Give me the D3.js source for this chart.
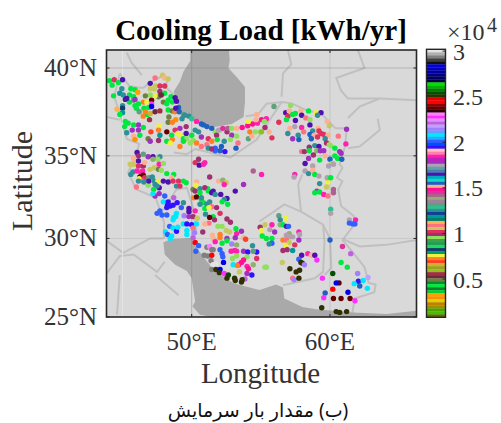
<!DOCTYPE html>
<html><head><meta charset="utf-8">
<script src="https://cdn.jsdelivr.net/npm/d3@7"></script>
<style>html,body{margin:0;padding:0;background:#fff;overflow:hidden}svg{display:block}</style>
</head><body><div id="c"></div>
<script>
// --- axis labels and ticks
const lonTicks=[50,60], latTicks=[25,30,35,40], cbTicks=[0.5,1,1.5,2,2.5,3];
const cbTickLabels=["0.5","1","1.5","2","2.5","3"];
const titleText="Cooling Load [kWh/yr]", xLabel="Longitude", yLabel="Latitude", caption="(ب) مقدار بار سرمایش";
const cbDomain=[0.08,3.02];
// colormap, top of the bar to bottom
const palette=["#e4e4e4","#b0b0b0","#808080","#404040","#101010",
"#0000e0","#0000c0","#0000a0","#000080","#000060","#000040",
"#00e000","#00b000","#008000","#005000","#303000",
"#e00000","#ff0000","#900000","#600000","#300000",
"#ff80ff","#ff30ff","#e090ff","#c060e0","#c0a0ff","#a080ff","#60a0ff","#00e8ff","#20b0ff","#3060ff","#0050ff","#3010ff",
"#ffc0c0","#ff80b0","#ff20b0","#c020c0","#a030c0","#b0a0b0","#60a0b0","#4a80b0","#5010b0","#00a8c0","#10d8c8","#2060c0",
"#ffb090","#ff1090","#e030a0","#b06090","#90b070","#a080a0","#60a080","#30c090","#309098","#104090","#009898","#007f70",
"#ffb050","#ff7080","#c8c860","#e03060","#a03070","#90e060","#40a050","#20a050","#20d860","#104070","#00a060",
"#f0f040","#ff8020","#ff4020","#d0b030","#a0a020","#90c020","#a03040","#702840","#708040","#009030","#00e840","#108030","#00d030",
"#ffa000","#ff9000","#e0d000","#c08000","#a09000","#50a000","#40c000","#607000"];
// --- stations: longitude, latitude, cooling load (x 10^4 kWh/yr)
const northwest=[[44.05,39.3,.43],[44.4,39.35,1.02],[44.25,39.05,.43],[44.7,39.2,.43],[45,39.35,1.64],[44.35,38.45,.43],[44.8,38.6,1.18],[44.95,38.85,1.25],[45.05,38.5,1.25],[45.2,38.25,.82],[45,37.9,1.25],[45,37.75,.82],[45,37.5,1.18],[44.6,37.7,1.12],[44.8,37.4,.43],[45.6,38.85,.43],[45.9,38.8,.43],[45.5,38.5,.43],[45.8,38.4,.43],[45.5,38.1,.43],[45.8,38.2,1.31],[45.3,38.3,1.64],[46.1,38.65,.335],[45.9,38.25,1.77],[46.5,38.1,.72],[45.9,37.9,.43],[46.15,38,.43],[46,37.75,.43],[46.2,37.55,1.31],[46.5,37.3,.72],[46.8,37.4,.43],[46.55,37.75,.43],[47,39.15,1.64],[47.35,39.45,1.085],[47.9,39.6,1.05],[48.05,39.45,1.51],[48.3,39.4,1.05],[47,38.85,1.05],[47.3,38.85,1.05],[47.35,39,1.05],[47.7,39,1.02],[48.05,39,1.02],[47.7,38.7,.985],[48.05,38.6,.43],[47.6,38.4,.5],[47.35,38.45,.76],[47.8,38.5,.53],[47,38.5,.95],[46.65,38.45,.5],[47.1,38.2,2.38],[47.1,38,2.27],[46.75,38.1,.76],[46.9,37.8,.43],[47.1,37.85,2.85],[46.65,37.55,.725],[47,37.45,.66],[47.35,37.55,.53],[47.7,37.6,.56],[46.95,37.1,.56],[47.95,38.1,.5],[48.2,38,.43],[48.5,38.4,.43],[48.3,38.2,.43],[48.6,38.1,.43],[48.8,38.35,1.64],[48.9,38.15,1.64],[48.3,37.65,.43],[48.6,37.6,.5],[48.35,37.25,.5],[48.3,36.95,.5],[48.8,37.55,.725],[48.85,37.1,.3],[48.6,36.95,.72],[49.05,37.8,1.54]];
const caspianCoast=[[48.85,37.75,1.64],[49.1,37.55,1.54],[49.4,37.4,1.31],[49.3,37.15,1.25],[49.5,37.35,1.25],[49.8,37.3,1.25],[50,37.15,1.28],[50.35,37,1.84],[50.7,36.85,1.54],[50.85,36.8,1.54],[51.1,36.7,1.54],[51.45,36.6,1.54],[51.95,36.5,1.74],[52.25,36.6,1.445],[52.6,36.6,1.41],[52.9,36.6,.955],[53.25,36.6,1.51],[53.65,36.65,1.48],[54.05,36.75,1.48],[54.4,36.85,1.48],[54.75,36.9,1.84],[55.05,37.1,1.48],[55.4,37.15,1.84],[54.1,37,.76],[54.7,37.4,1.51],[54.65,37.1,1.51],[55.25,37,.955],[54.2,36.4,.725],[54.6,36.4,.955],[55.05,36.4,.595]];
const alborz=[[47.65,36.75,.76],[47.6,36.5,.725],[47.05,36.4,.69],[46.15,36.8,1.77],[46.5,36.65,.43],[45.8,36.8,.43],[45.2,37,.43],[45.4,36.9,.43],[45.15,36.7,.43],[45.7,36.5,1.77],[46.15,36.5,1.77],[45.3,36.35,1.25],[45.8,36.15,1.51],[45.9,35.95,.3],[46.25,36.2,.43],[46.85,36,.5],[47,35.85,1.77],[47.6,35.9,.985],[47.7,36.2,1.18],[48.2,36.4,2.38],[48.55,36.2,.43],[48.2,35.85,.43],[48.6,35.95,.725],[48.45,35.75,.76],[48.8,36.5,1.02],[49.15,36.6,1.77],[49.15,36.2,.76],[49.6,36.3,1.64],[49.6,36.7,.985],[49,36.3,.76],[49.4,36,.43],[49.65,36,.955],[50,36.2,.43],[50.25,36.5,1.25],[50.5,36.4,1.25],[50.1,35.9,.955],[50.7,36.1,1.77],[51.2,36,1.02],[51.7,36.4,.955],[51.8,36.2,.985],[52.05,36.5,.955],[52.55,36.4,.985],[52.9,36.2,1.77],[53.25,36.15,.955],[52.8,35.95,.955],[51.85,35.95,.43],[52.35,35.85,1.25],[51.45,35.85,.725],[51.1,35.65,1.085],[50.7,35.55,1.085],[50.35,35.75,.725],[49.15,35.55,.725],[49.4,35.85,.43],[49.9,35.75,.955],[51.7,35.45,2],[51.7,35.3,2],[52.05,35.3,1.54],[52.4,35.25,1.935],[52.15,35.55,1.54],[51.2,35.45,1.25],[51.45,35.4,.985],[53.35,35.75,1.085],[53.2,35.45,1.54],[54.1,36,1.31],[54.35,36.15,1.51],[54.95,36.4,.955],[50.5,34.8,.985],[50.25,34.6,1.02],[50.55,34.45,1.64],[50.95,34.6,1.84],[50.85,34.5,1.84],[54.45,34.1,1.41],[55.05,33.9,1.84]];
const zagrosNorth=[[46.05,35.2,1.64],[46.15,35,.985],[46.5,35.1,1.31],[46.85,34.95,1.77],[47.2,34.95,1.64],[47.7,34.95,1.25],[47.55,34.8,.955],[45.8,34.85,1.51],[46.15,34.7,1.64],[45.8,34.5,1.05],[45.55,34.5,1.05],[46.15,34.4,1.02],[46.5,34.4,.985],[47,34.2,1.05],[47.3,34.3,1.05],[47.2,34.8,1.38],[46.6,34.6,1.51],[47.65,34.5,1.84],[47.95,34.55,.955],[47.6,34.2,.5],[47.8,34.15,.955],[48.2,33.95,.43],[48.7,33.9,.43],[48.55,33.7,1.51],[45.75,34.05,1.25],[45.6,33.9,1.25],[46.05,34.1,1.84],[46.35,34,1.84],[46.45,34.1,1.84],[46.25,33.75,2.38],[46.5,33.85,2.38],[46.6,33.7,1.02],[46.9,33.7,1.31],[46.2,33.65,.76],[46.45,33.5,1.085],[46.15,33.5,1.25],[46.55,33.45,1.25],[46.85,33.25,.955],[46.9,33.5,1.64],[47.15,33.75,1.25],[47.3,33.5,1.25],[47.55,33.5,.76],[47.95,33.5,1.64],[48.3,33.45,1.64],[48.65,33.5,1.02],[49.05,33.5,1.02],[48.9,33.2,1.25],[49.15,33.2,1.02],[49.4,33.5,.43],[49.6,33.4,.43],[46,33.15,1.085],[47.35,33.3,1.25],[47.65,33.1,1.64],[47.5,33.2,1.25],[47.25,33,.43],[47.65,32.75,1.77],[47.35,32.6,1.77],[47.2,32.75,2.07]];
const khuzestan=[[48.05,32.6,2],[47.95,32.25,2.07],[48.3,32.25,1.935],[48.7,32.5,2.2],[48.65,32.05,1.935],[48.25,32.05,1.935],[48.45,32,1.935],[48.95,32.2,1.935],[48.2,31.9,1.935],[49.25,31.9,2],[49.4,32.2,1.25],[47.7,31.7,2.02],[47.85,31.45,2.02],[48.2,31.45,2.02],[48.9,31.55,2.07],[48.7,31.3,2.07],[48.85,31.35,2.07],[48.65,31.15,2.07],[47.5,31.55,2.02],[48.4,30.75,2],[48.65,30.65,2.07],[48.1,30.4,2.07],[48.25,30.25,2],[48.55,30.15,2.07],[48.45,30,2.07],[48.9,30.45,1.935],[49,30.7,2.07],[49.4,30.9,2.07],[49.65,30.9,1.935],[50,30.85,1.935],[50.1,30.65,1.085],[49.65,30.5,2.07],[49.65,30.25,2.07],[50.2,30.35,2.13],[50.1,30.05,2.2],[49.8,31.85,1.64],[49.8,31.65,1.64],[49.45,31.4,2.13],[49.8,31.35,1.77],[50.1,31.35,.985],[50.25,31.7,1.84],[50.4,31.25,1.05],[50.35,30.9,2.07]];
const central=[[50.1,33,.5],[50.15,32.5,.725],[50.35,32.55,2.38],[50.25,32.9,.985],[50.6,33.05,1.25],[51.15,33.05,.43],[50.35,33.45,1.51],[50.3,33.25,.76],[50.6,32.8,.43],[50.95,33.1,.985],[51.2,32.9,.43],[51.45,32.8,1.64],[51.55,32.9,1.64],[51.7,32.7,1.25],[52.1,32.7,1.64],[52.55,32.45,1.64],[52.35,32.4,1.25],[52.2,32.25,.43],[52.6,32.1,.43],[53.15,32.9,1.64],[53.75,33.3,1.77],[51.95,33.5,1.51],[52.25,33.55,1.38],[52.5,33.4,1.05],[52.35,33.3,1.84],[51.3,33.75,.985],[50.7,32.4,.43],[50.85,32.2,.43],[51.1,32.1,1.25],[50.6,32.1,1.25],[50.95,31.85,.43],[50.7,32.5,1.25],[51.3,32.25,1.25],[51.45,31.95,1.085],[51.8,31.9,.985],[51.25,31.9,.76],[51,31.5,1.25],[51.55,31.35,.43],[51.3,31.3,2.38],[52.05,31.55,1.02],[52.55,31.2,.985],[52.8,31,.985],[51.65,31.15,.985],[51.25,30.95,1.085],[50.95,30.9,1.51],[50.8,30.4,.985],[51.9,30.75,.955],[52.2,30.75,.955],[52.5,30.5,1.05],[53.2,30.6,.43],[52.75,30.4,1.05],[53.6,30.45,1.77],[53.25,30.3,1.84],[52.05,30.25,.725],[51.5,30.2,1.51],[51.6,29.95,1.51],[52.55,30,1.77],[52.05,30.05,.725],[53.15,30.05,1.77],[53.75,30.05,1.51],[53.9,29.95,.69],[51.7,29.8,1.84],[52.2,29.7,.43],[52.55,29.85,.43],[52.9,29.65,2.13],[53.25,29.6,1.38],[54.4,29.55,1.25]];
const fars=[[52.05,29.3,2],[52.2,29.05,2],[52.25,28.85,2],[52.85,29.2,1.84],[53.1,29.25,1.84],[53.25,29.2,1.84],[53.75,29.2,1.77],[54.05,29.15,1.935],[54.7,29.15,1.935],[54.45,29.2,1.31],[53.25,28.9,.955],[52.95,28.75,.955],[54,28.85,.955],[53.75,28.65,1.48],[53.6,28.5,1.48],[53.4,28.35,1.48],[53,28.35,2.07],[53.3,28.3,.725],[54,28.25,1.84],[54.1,28.1,1.48],[54.45,28.35,1.38],[54.7,28.75,1.02],[55.3,28.2,.955],[53.45,27.9,1.05],[54,27.8,1.77],[54.35,27.7,1.935],[53.85,27.45,2.2]];
const gulfCoast=[[50.25,29.75,2.44],[50.5,29.55,2],[50.3,29.2,2],[51.1,29.45,2.93],[51.3,29.5,2.3],[51.45,29.3,2.93],[51.55,29.3,2.93],[50.9,28.95,2.93],[51.15,28.9,2.93],[51.45,28.95,2.44],[51.4,28.6,2.93],[51.55,28.35,2.99],[51.75,28.4,2.99],[52.3,28.5,2.85],[51.45,28.05,2.93],[51.75,28.05,2.5],[52.05,28.05,2.85],[52,27.85,2.5],[52.35,27.8,2.27],[52.65,27.7,2.55],[52.55,27.5,2.5],[53.1,27.5,2.5],[53.15,27.35,2.5],[53.6,27.25,2.5],[53.65,27.4,2.5]];
const khorasan=[[55.95,37.85,1.31],[57.15,37.9,.955],[56.8,37.5,1.64],[57.05,37.6,1.51],[56.95,37.3,1.02],[57.3,37.4,.43],[57.5,37.45,.43],[57.9,37.6,1.51],[57.95,37.35,1.64],[58.45,37.6,.43],[59,37.5,.76],[59.35,37.5,1.64],[59.1,37.35,1.25],[58.25,37.2,1.085],[58.55,37.1,.955],[56.85,37.1,.43],[57.5,37.05,1.64],[59.8,37,1.51],[59.95,36.75,1.05],[58.55,36.8,1.64],[57.95,36.65,1.84],[57.45,36.7,1.74],[57.1,36.6,1.51],[56.3,36.95,1.02],[56.95,36.3,1.25],[58.1,36.4,1.085],[58.75,36.45,1.25],[59.15,36.6,1.51],[59.2,36.45,1.02],[59.35,36.3,1.02],[59.55,36.25,1.02],[59.85,36.2,1.51],[58.55,36.25,1.54],[58.65,36.25,1.54],[58.85,36.2,1.51],[59.1,36.1,1.02],[58.65,36,1.54],[57.3,36,1.77],[57.7,36.2,1.25],[57.75,35.95,1.54],[59.65,36,1.25],[61.2,36.55,1.77],[60.6,36.15,1.085],[61.15,35.7,1.84],[55.8,36.05,1.02],[55.6,36.4,1.51],[55.3,36.65,.985],[59.75,35.75,.985],[59.95,35.65,1.05],[60.05,35.6,.955],[60.35,35.45,.43],[58.9,35.6,1.25],[59.2,35.55,1.64],[58.5,35.5,.985],[57.95,35.25,1.085],[58.15,35.25,.985],[58.5,35.3,.43],[59.05,35.3,1.38],[59.3,35.3,1.77],[59.55,35.3,1.77],[60.7,35.25,1.77],[60.8,35.15,1.77],[59.65,35,1.51],[60.35,35,.43],[60.55,34.85,.43],[60.85,34.8,1.54],[58.8,35.05,.985],[58.45,34.85,1.77],[59.25,34.75,.43],[60,34.8,1.54],[60.15,34.55,.955],[60.25,34.5,1.74],[59.9,34.4,1.74],[58.2,34.55,1.64],[58.75,34.4,1.74],[58.2,34.1,1.74],[58.45,33.95,1.25],[58.75,34.15,1.51],[58.9,33.9,.43],[59.2,33.8,1.74],[57.45,33.9,1.84],[57.4,33.75,1.74],[59.8,33.7,1.74],[60.05,33.7,.43]];
const east=[[59.85,33.45,.76],[59.25,33.35,1.25],[59.75,33.15,1.05],[60.25,33,1.41],[60.25,32.8,1.41],[59.05,32.9,1.77],[58.9,32.8,.43],[59.25,32.85,.43],[59.55,32.7,1.84],[59.85,32.6,1.085],[60.05,31.8,1.28],[60.05,31.55,1.74],[61.4,31.15,1.74],[61.85,31.15,1.84],[61.4,30.95,2],[61.65,30.9,2],[61.8,30.9,2],[56.3,31.4,1.31],[56.8,31.25,.76],[56.4,31.15,1.25],[56.4,30.85,1.38],[56.6,30.85,.43],[56.85,30.75,1.64],[57,30.75,2],[55.8,30.85,1.84],[55.3,30.85,1.05],[55.65,30.55,1.74],[54.95,30.7,.985],[55.05,30.5,.76],[57.75,30.4,1.84],[57.8,30.25,1.74],[56,30.4,1.77],[57.05,30.3,1.38],[56.85,30.2,1.74],[57.1,30.1,1.74],[57.3,30.1,1.74],[57.75,29.9,1.77],[55.1,30.15,.43],[55.4,30,.43],[55.8,30,.43],[56.6,29.9,.725],[56.85,29.9,1.085],[57.05,29.75,1.05],[57.45,29.6,1.02],[55.8,29.7,2],[55.6,29.65,1.25],[56.8,29.55,.76],[56.9,29.3,.985],[56.6,29.25,.985],[57.3,29.25,1.18]];
const southeast=[[60,29.9,1.54],[60.9,29.5,1.445],[61.5,29.05,2.2],[58.4,29.05,1.84],[58.65,28.95,1.51],[57.95,28.95,1.64],[58.9,28.95,1.64],[59.05,28.65,2.27],[57.75,28.7,2],[57.9,28.5,2.5],[58,28.45,2.5],[58.15,28.35,2.13],[56.55,28.5,1.05],[55.4,28.2,.955],[57.1,28.1,2.5],[57.55,27.9,2.5],[57.8,28,2.5],[57.3,27.5,1.085],[57.4,27.4,2.13],[57.75,27.5,2.5],[60.8,28.5,.43],[61.25,28.2,.43],[60.2,27.8,2.55],[59.45,27.5,2.27],[60.65,27.2,2.38],[60.45,27.2,2.85],[62,27.8,2.13],[62.75,27.55,2.17],[62.05,27.3,1.935],[61.75,27.15,2.07],[62.4,27.35,2.07],[62.15,27,1.54],[62.7,26.85,2.07],[60.2,26.8,2.44],[61.3,26.6,2.85],[59.65,26.55,1.54],[59.55,26.25,2.27],[60.25,26.2,2.38],[60.8,26.2,2.38],[61.45,26.2,2.38],[61.8,26.05,2.27],[59.4,25.6,2.5],[60.45,25.35,2.5],[60.7,25.3,2.5],[61.2,25.35,2.5]];
const stationGroups=[southeast,east,khorasan,fars,gulfCoast,central,khuzestan,zagrosNorth,alborz,northwest,caspianCoast];
// --- map outlines (lon, lat)
const caspianSea=[[49.9,41.6],[52.65,41.6],[52.75,40.4],[52.65,40],[53.25,39.5],[53.85,38.95],[53.85,38.1],[53.75,37.25],[52.9,36.85],[51.45,36.65],[50.25,37],[49.3,37.45],[48.9,38.2],[48.7,38.7],[49.15,39.25],[49.4,39.8],[49.9,40.4]];
const gulfSea=[[47.95,29.75],[48.45,29.95],[50,30.05],[50.25,29.55],[51.1,28.55],[51.7,27.95],[53,27.2],[53.75,27],[54.9,26.75],[56.1,27.1],[56.6,26.9],[56.7,26.2],[58,25.65],[59,25.5],[61.65,25.3],[64.1,25.2],[66.25,25.4],[67,25.4],[67,24],[51.45,24],[51.45,25],[50.6,25.15],[50.05,25.7],[50.25,26],[50,27.5],[49.65,27.95],[48.8,28.35],[48.05,29]];
const borderLines=[
[[44.8,39.7],[45.5,39],[46.2,38.9],[46.5,38.9],[47,39.2],[48,39.6],[48.3,39.3],[48,39],[48.9,38.4]],
[[53.9,37.3],[54.8,37.4],[55.4,38],[56.6,38.1],[57.3,38],[58.4,37.6],[59.3,37.5],[60.4,36.6],[61.2,36.6],[61.1,35.6],[60.7,34.5],[60.9,34.3],[60.5,33.7],[60.9,33.5],[60.6,33],[60.8,32],[61.7,31.4],[61.8,30.9],[60.9,29.9],[61.4,29.4],[62.5,28.2],[62.8,27.2],[63.3,27.1],[63.2,26.6],[61.8,26.2],[61.6,25.2]],
[[44.8,39.7],[44.4,38.4],[44.9,37.2],[45.3,36],[46.2,35.7],[46,35.1],[45.4,34],[46,33],[47.4,32.5],[48,31],[48,30]],
[[56.95,41],[57.2,40.2],[56.6,39.7],[56.5,38.4]],
[[62,41],[62.5,40],[60.45,39.45],[60.8,38.75],[61.3,38.3],[63.6,38.3],[66.3,38.2]],
[[63.45,37.15],[63.6,36.5],[62.15,35.55],[61.3,35.45]],
[[61.3,37.2],[62.15,37.85],[63.6,38.3]],
[[60.95,29.95],[62.15,29.5],[64.05,29.6],[66.3,29.9]],
[[54.9,31.05],[56.7,32.1],[57.9,31.65],[59.5,30.85],[60,30],[60.1,28.15],[59.6,27.7]],
[[57.9,31.65],[57.7,33.3],[58,33.9]],
[[59.5,30.85],[59.6,29.85],[59.5,27.9],[58.9,27.5],[56.6,27.05]],
[[43.85,29.85],[45.05,29.1],[47,30],[47.95,30]],
[[43.85,27.8],[44.8,28.9],[45.8,29],[47.5,27.9],[48.05,28.55]],
[[44.8,27.7],[44.6,25.15]],
[[47.35,27.7],[49.05,26.4]],
[[45.3,40.85],[45.65,40.3],[46.4,39.6]],
[[43.85,37.25],[44.8,37.1]],
[[47.95,31.75],[48.9,33],[49.65,33.1],[50.1,31.9],[50.35,30.25]],
[[48.7,35.2],[49.65,35.1],[50.25,35.4],[52.8,34.9],[54.7,35.95],[56.5,38.1]]];

// --- drawing
const W=501,H=423;
const merc=lat=>Math.log(Math.tan(Math.PI/4+lat*Math.PI/360));
const box={l:106.5,r:416.5,t:50,b:317};
const x=d3.scaleLinear().domain([50,60]).range([191.7,330]);
const y=d3.scaleLinear().domain([merc(25),merc(40)]).range([317,68]);
const line=d3.line().x(d=>x(d[0])).y(d=>y(merc(d[1])));
const svg=d3.select("#c").append("svg").attr("width",W).attr("height",H);
const serif="'Liberation Serif','Times New Roman',serif", ink="#333";
svg.append("defs").append("clipPath").attr("id","clip").append("rect")
  .attr("x",box.l).attr("y",box.t).attr("width",box.r-box.l).attr("height",box.b-box.t);
const map=svg.append("g").attr("clip-path","url(#clip)");
map.append("rect").attr("x",box.l).attr("y",box.t).attr("width",box.r-box.l).attr("height",box.b-box.t).attr("fill","#d9d9d9");
map.selectAll("path.line").data(borderLines).join("path").attr("class","line").attr("d",line)
  .attr("fill","none").attr("stroke","#c0c0c0").attr("stroke-width",2).attr("stroke-linejoin","round");
map.selectAll("path.sea").data([caspianSea,gulfSea]).join("path").attr("class","sea").attr("d",d=>line(d)+"Z").attr("fill","#a9a9a9");
// graticule
const vOpacity={45:1,50:0.45,60:0.22};
map.selectAll("line.v").data([45,50,60]).join("line").attr("class","v").attr("x1",d=>x(d)).attr("x2",d=>x(d)).attr("y1",box.t).attr("y2",box.b)
  .attr("stroke",d=>d==45?"#e4e4e4":"#808080").attr("stroke-opacity",d=>vOpacity[d]).attr("stroke-width",1);
map.selectAll("line.h").data([30,35,40]).join("line").attr("class","h").attr("y1",d=>y(merc(d))).attr("y2",d=>y(merc(d))).attr("x1",box.l).attr("x2",box.r)
  .attr("stroke","#808080").attr("stroke-opacity",d=>d==30?0.18:0.4).attr("stroke-width",1);
// colour scale
const cbY=d3.scaleLinear().domain(cbDomain).range([317.3,49.3]);
const colour=d3.scaleQuantize().domain(cbDomain).range(palette.slice().reverse());
map.selectAll("g.grp").data(stationGroups).join("g").attr("class","grp").selectAll("circle").data(d=>d).join("circle")
  .attr("cx",d=>x(d[0])).attr("cy",d=>y(merc(d[1]))).attr("r",2.7).attr("fill",d=>colour(d[2]));
// frame and ticks
svg.append("rect").attr("x",box.l).attr("y",box.t).attr("width",box.r-box.l).attr("height",box.b-box.t).attr("fill","none").attr("stroke","#262626").attr("stroke-width",1.6);
lonTicks.forEach(v=>{[[box.b,box.b-3],[box.t,box.t+3]].forEach(p=>svg.append("line").attr("x1",x(v)).attr("x2",x(v)).attr("y1",p[0]).attr("y2",p[1]).attr("stroke","#262626"));
  svg.append("text").attr("x",x(v)).attr("y",350).attr("text-anchor","middle").attr("font-family",serif).attr("font-size",25).attr("fill",ink).text(v+"°E");});
latTicks.forEach(v=>{const py=y(merc(v));[[box.l,box.l+3],[box.r,box.r-3]].forEach(p=>svg.append("line").attr("y1",py).attr("y2",py).attr("x1",p[0]).attr("x2",p[1]).attr("stroke","#262626"));
  svg.append("text").attr("x",97).attr("y",py+8).attr("text-anchor","end").attr("font-family",serif).attr("font-size",25).attr("fill",ink).text(v+"°N");});
svg.append("text").attr("x",260.5).attr("y",383).attr("text-anchor","middle").attr("font-family",serif).attr("font-size",29).attr("fill",ink).text(xLabel);
svg.append("text").attr("transform","translate(32,181) rotate(-90)").attr("text-anchor","middle").attr("font-family",serif).attr("font-size",30).attr("fill",ink).text(yLabel);
svg.append("text").attr("x",261).attr("y",40).attr("text-anchor","middle").attr("font-family",serif).attr("font-weight","bold").attr("font-size",29).attr("fill","#000").text(titleText);
svg.append("text").attr("x",258).attr("y",417).attr("text-anchor","middle").attr("direction","rtl").attr("font-family","'Noto Sans','DejaVu Sans',serif").attr("font-size",19).attr("fill","#111").text(caption);
// colourbar
const band=(317.3-49.3)/palette.length;
svg.selectAll("rect.cb").data(palette).join("rect").attr("class","cb").attr("x",426.5).attr("width",19).attr("y",(d,i)=>49.3+i*band).attr("height",band+0.3).attr("fill",d=>d);
svg.append("rect").attr("x",426.5).attr("y",49.3).attr("width",19).attr("height",268).attr("fill","none").attr("stroke","#262626").attr("stroke-width",1.4);
cbTicks.forEach((v,i)=>{const py=cbY(v);
  svg.append("line").attr("x1",445.5).attr("x2",442.5).attr("y1",py).attr("y2",py).attr("stroke","#262626");
  svg.append("text").attr("x",453).attr("y",py+8.5).attr("font-family",serif).attr("font-size",24).attr("fill",ink).text(cbTickLabels[i]);});
svg.append("text").attr("x",447).attr("y",40).attr("font-family",serif).attr("font-size",24).attr("fill",ink).text("×10");
svg.append("text").attr("x",487).attr("y",32).attr("font-family",serif).attr("font-size",20).attr("fill",ink).text("4");
</script></body></html>
